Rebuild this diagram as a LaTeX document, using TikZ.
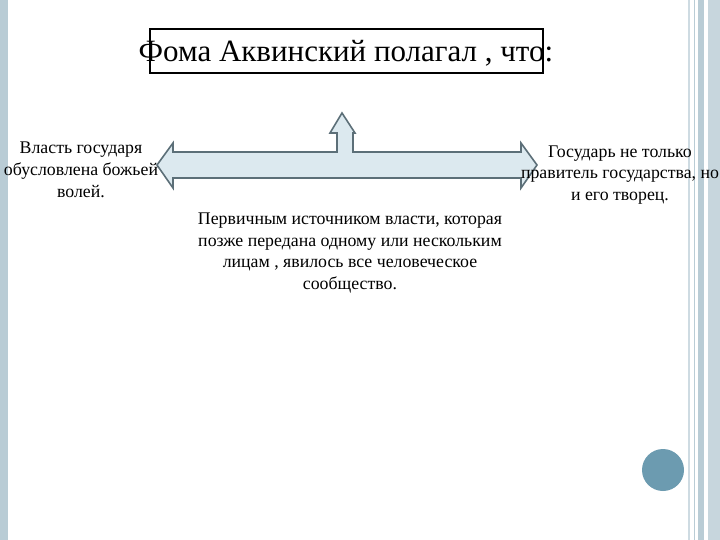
\documentclass[tikz,border=0pt]{standalone}
\usepackage{fontspec}
\setmainfont{Liberation Serif}
\definecolor{stripe}{HTML}{B9CCD5}
\definecolor{dot}{HTML}{6C9BB0}
\definecolor{arrowline}{HTML}{5C6F78}
\definecolor{arrowfill}{HTML}{DCE9EF}
\begin{document}
\begin{tikzpicture}[x=1pt,y=-1pt,
  txt/.style={align=center,font=\fontsize{17.8}{21.8}\selectfont,inner sep=0pt},
  bar/.style={fill=stripe,draw=none}]
\useasboundingbox (0,0) rectangle (720,540);
\fill[white] (0,0) rectangle (720,540);
% borders
\fill[bar] (0,0) rectangle (8,540);
\fill[stripe!70] (688,0) rectangle (690,540);
\fill[stripe] (698,0) rectangle (704,540);
\fill[stripe!80] (708,0) rectangle (720,540);
\draw[stripe,line width=0.8] (694,0) -- (694,540);
% title
\node[draw,line width=1.2,minimum width=393,minimum height=44,inner sep=0pt] (title) at (346.5,51) {};
\node[font=\fontsize{31}{34}\selectfont,inner sep=0pt] (titletext) at (346,53) {Фома Аквинский полагал , что:};
% arrow
\node[inner sep=0pt] (arr) at (347,165) {};
\draw[arrowline,line width=1.6,fill=arrowfill,line join=miter]
  (157,165) -- (173,143) -- (173,152) -- (337,152) -- (337,133) -- (330,133) -- (342,113)
  -- (355,133) -- (353,133) -- (353,152) -- (521,152) -- (521,143) -- (537,165)
  -- (521,188) -- (521,178) -- (173,178) -- (173,188) -- cycle;
% texts
\node[txt] (left) at (81,170) {Власть государя\\обусловлена божьей\\волей.};
\node[txt] (right) at (620,175) {Государь не только\\правитель государства, но\\и его творец.};
\node[txt] (mid) at (350,253) {Первичным источником власти, которая\\позже передана одному или нескольким\\лицам , явилось все человеческое\\сообщество.};
% dot
\fill[dot] (663,470) circle (21);
\end{tikzpicture}
\end{document}
